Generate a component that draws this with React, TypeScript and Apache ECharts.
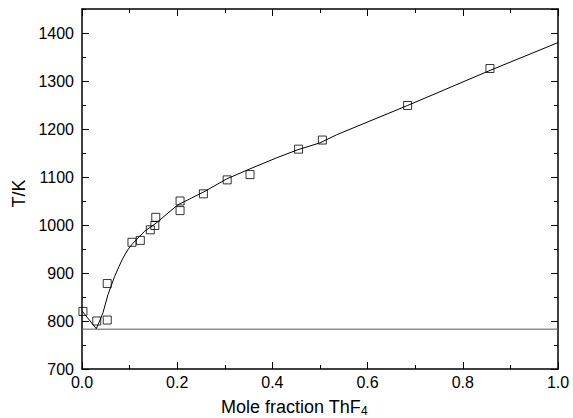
import React, { useEffect, useRef } from "react";
import * as echarts from "echarts";

const pointsX = [0.002, 0.031, 0.053, 0.053, 0.105, 0.1225, 0.1435, 0.153, 0.155, 0.206, 0.206, 0.255, 0.305, 0.353, 0.455, 0.505, 0.684, 0.857];
const pointsY = [820, 800, 802, 878, 964, 968, 990, 999, 1016, 1030, 1050, 1065, 1094, 1105, 1158, 1177, 1249, 1326];

const leftBranchX = [0, 0.03];
const leftBranchY = [821, 784];

const curveX = [0.03, 0.037, 0.044, 0.0546, 0.0686, 0.078, 0.086, 0.096, 0.107, 0.1316, 0.156, 0.1806, 0.2016, 0.2296, 0.256, 0.304, 0.353, 0.409, 0.454, 0.4997, 0.535, 0.684, 0.857, 1.0];
const curveY = [784, 800, 817, 855, 893, 914, 931, 948, 962, 987, 1004, 1025, 1042, 1056, 1069, 1096, 1117, 1140, 1157, 1171, 1188, 1249, 1322, 1380];

const eutecticX = [0, 1];
const eutecticY = [783, 783];

const yMin = 700;
const yMax = 1450;
const xTitle = "Mole fraction ThF";
const xTitleSub = "4";
const yTitle = "T/K";

const FONT = "'Liberation Sans', Arial, Helvetica, sans-serif";

export default function App() {
  const ref = useRef<HTMLDivElement>(null);
  useEffect(() => {
    if (!ref.current) return;
    const chart = echarts.init(ref.current, undefined, { renderer: "svg" });
    const axisLine = { show: true, lineStyle: { color: "#000", width: 1.5 } };
    const gridW = 476;
    const gridH = 360;
    const baseX = {
      type: "value" as const,
      min: 0,
      max: 1,
      interval: 0.2,
      splitLine: { show: false },
      axisLine,
      axisTick: { inside: true, length: 7, lineStyle: { color: "#000", width: 1 } },
      minorTick: { show: true, splitNumber: 2, length: 4, lineStyle: { color: "#000", width: 1 } },
    };
    const yMajor = (pos: "left" | "right", labels: boolean) => ({
      type: "value" as const,
      position: pos,
      min: yMin,
      max: yMax,
      interval: 100,
      splitLine: { show: false },
      axisLine,
      axisTick: { inside: true, length: 7, lineStyle: { color: "#000", width: 1 } },
      axisLabel: labels
        ? {
            show: true,
            color: "#000",
            fontSize: 16,
            fontFamily: FONT,
            margin: 8,
            showMaxLabel: false,
            formatter: (v: number) => String(v),
          }
        : { show: false },
    });
    const yMinor = (pos: "left" | "right") => ({
      type: "value" as const,
      position: pos,
      min: yMin,
      max: yMax,
      interval: 50,
      splitLine: { show: false },
      axisLine: { show: false },
      axisTick: { inside: true, length: 4, lineStyle: { color: "#000", width: 1 } },
      axisLabel: { show: false },
    });
    const data = (xs: number[], ys: number[]) => xs.map((x, i) => [x, ys[i]]);
    chart.setOption({
      animation: false,
      backgroundColor: "#fff",
      grid: { left: 82, top: 9, width: gridW, height: gridH, containLabel: false },
      xAxis: [
        {
          ...baseX,
          position: "bottom",
          axisLabel: {
            show: true,
            color: "#000",
            fontSize: 16,
            fontFamily: FONT,
            margin: 5,
            formatter: (v: number) => v.toFixed(1),
          },
        },
        { ...baseX, position: "top", axisLabel: { show: false } },
      ],
      yAxis: [
        {
          ...yMajor("left", true),
          name: yTitle,
          nameLocation: "middle",
          nameGap: 52,
          nameTextStyle: { color: "#000", fontSize: 18, fontFamily: FONT, padding: [0, 9, 0, 0] },
        },
        yMinor("left"),
        yMajor("right", false),
        yMinor("right"),
      ],
      graphic: [
        {
          type: "text",
          left: 221,
          top: 398,
          style: { text: xTitle, fill: "#000", font: `18px ${FONT}` },
        },
        {
          type: "text",
          left: 361,
          top: 405,
          style: { text: xTitleSub, fill: "#000", font: `12px ${FONT}` },
        },
      ],
      series: [
        {
          type: "line",
          data: data(eutecticX, eutecticY),
          showSymbol: false,
          lineStyle: { color: "#555", width: 1 },
          silent: true,
        },
        {
          type: "line",
          data: data(leftBranchX, leftBranchY),
          showSymbol: false,
          lineStyle: { color: "#000", width: 1 },
          silent: true,
        },
        {
          type: "line",
          data: data(curveX, curveY),
          showSymbol: false,
          smooth: false,
          lineStyle: { color: "#000", width: 1 },
          silent: true,
        },
        {
          type: "scatter",
          data: data(pointsX, pointsY),
          symbol: "rect",
          symbolSize: 8,
          itemStyle: { color: "rgba(255,255,255,0)", borderColor: "#000", borderWidth: 1 },
          silent: true,
        },
      ],
    });
    return () => chart.dispose();
  }, []);
  return (
    <div
      ref={ref}
      style={{ position: "fixed", left: 0, top: 0, width: 573, height: 418 }}
    />
  );
}
